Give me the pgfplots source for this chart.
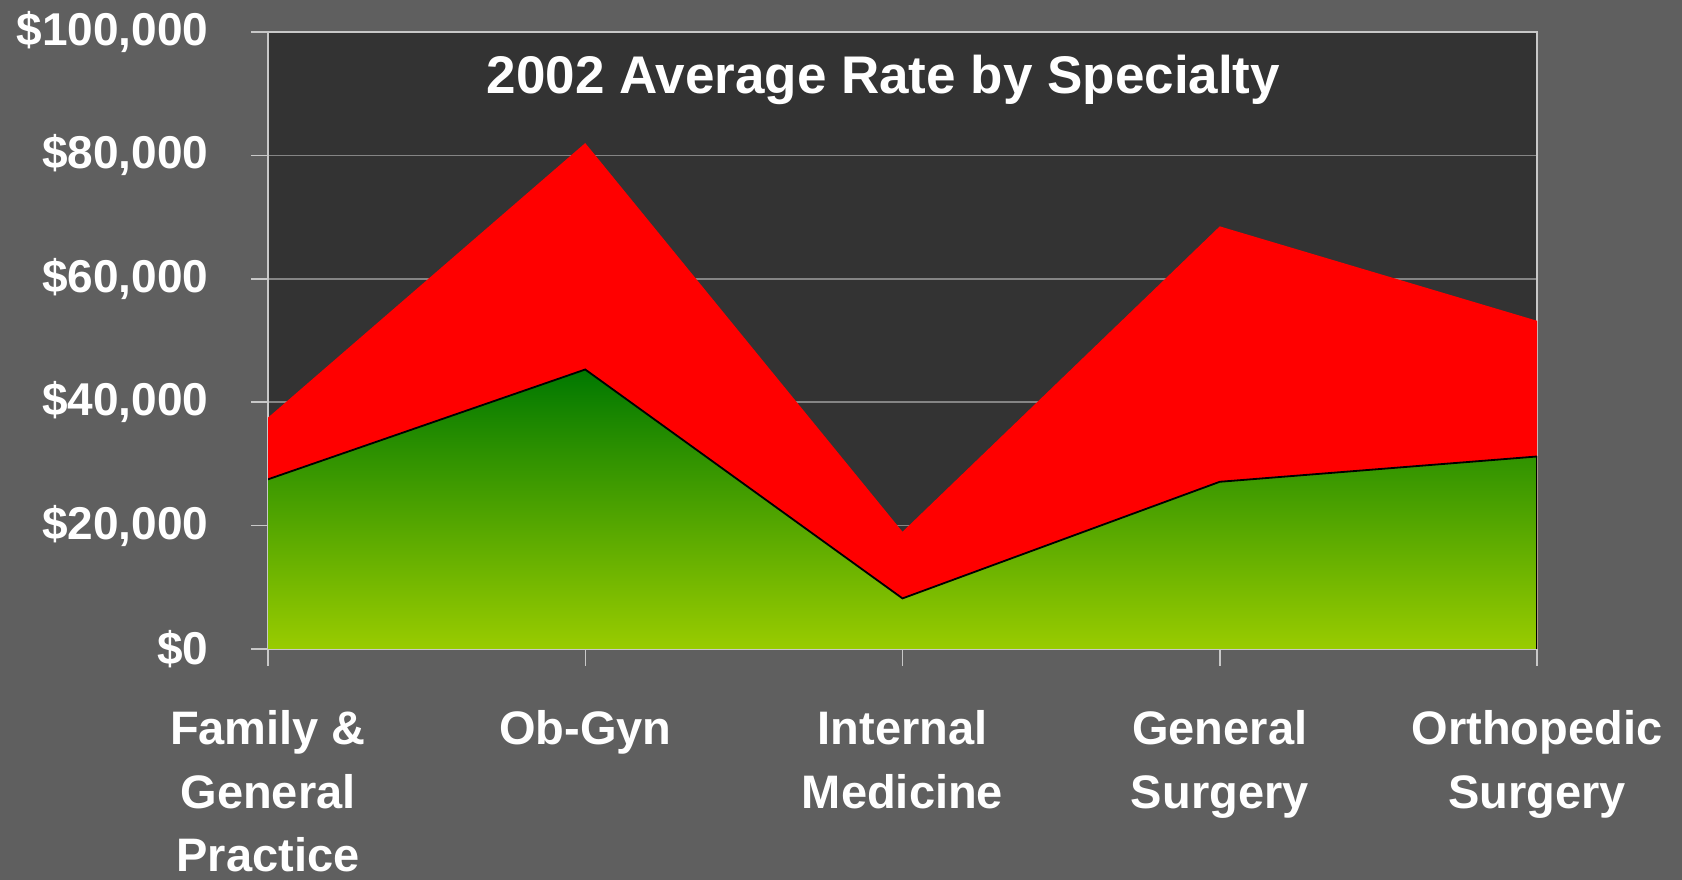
\documentclass[border=0pt]{standalone}
\usepackage{pgfplots}
\pgfplotsset{compat=1.18}
\usepackage{pgfplotstable}
\usepackage{fontspec}
\setmainfont{Liberation Sans}
\definecolor{bg}{HTML}{5F5F5F}
\definecolor{plotbg}{HTML}{333333}
\definecolor{gridc}{HTML}{858585}
\definecolor{axc}{HTML}{C8C8C8}
\definecolor{gtop}{HTML}{007800}
\definecolor{gmid}{HTML}{80B400}
\definecolor{gbot}{HTML}{99CC00}

\pgfplotstableread{
x total base
0 37500 27500
1 82000 45300
2 19000 8200
3 68500 27100
4 53200 31200
}\rates

\begin{document}
\begin{tikzpicture}
\fill[bg] (0,0) rectangle (1682bp,880bp);
\begin{axis}[
 at={(268bp,231bp)}, anchor=south west,
 scale only axis, width=1269bp, height=617bp,
 xmin=0, xmax=4, ymin=0, ymax=100000,
 xtick={0,1,2,3,4},
 xticklabels={{Family \&\\General\\Practice}, Ob-Gyn, {Internal\\Medicine}, {General\\Surgery}, {Orthopedic\\Surgery}},
 ytick={0,20000,40000,60000,80000,100000},
 yticklabels={\$0,{\$20,000},{\$40,000},{\$60,000},{\$80,000},{\$100,000}},
 scaled y ticks=false,
 tick align=outside, xtick pos=bottom, ytick pos=left,
 major tick length=17bp,
 axis line style={draw=axc, line width=1.5bp},
 tick style={draw=axc, line width=1.5bp},
 ymajorgrids, grid style={draw=gridc, line width=1.5bp},
 axis background/.style={fill=plotbg},
 tick label style={text=white},
 yticklabel style={xshift=-39bp, font=\bfseries\fontsize{46bp}{55bp}\selectfont},
 xticklabel style={yshift=-41bp, align=center, font=\bfseries\fontsize{47bp}{63.5bp}\selectfont},
]
\addplot[fill=red, draw=none] table[x=x,y=total]{\rates} \closedcycle;
\addplot[draw=none, top color=gtop, middle color=gmid, bottom color=gbot] table[x=x,y=base]{\rates} \closedcycle;
\addplot[draw=black, line width=1.8bp] table[x=x,y=base]{\rates};
\addplot[draw=black, line width=1.8bp] coordinates {(4,31200) (4,0)};
\node[anchor=base, text=white, font=\bfseries\fontsize{53bp}{60bp}\selectfont] at (rel axis cs:0.485,0.9) {2002 Average Rate by Specialty};
\end{axis}
\pgfresetboundingbox
\path (0,0) rectangle (1682bp,880bp);
\end{tikzpicture}
\end{document}
